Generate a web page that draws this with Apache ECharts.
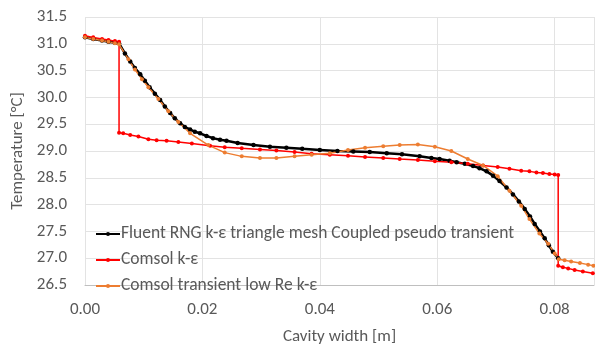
<!DOCTYPE html>
<html>
<head>
<meta charset="utf-8">
<script src="https://cdn.jsdelivr.net/npm/echarts@6/dist/echarts.min.js"></script>
<style>
    html, body { margin: 0; padding: 0; background: #fff; }
    #chart { width: 595px; height: 350px; }
</style>
</head>
<body>
<div id="chart"></div>
<script>
    // Fluent RNG k-e (dense markers)
    const fluentX = [0, 0.0014, 0.0029, 0.0040, 0.0051, 0.0058, 0.0068, 0.0077, 0.0085, 0.0094, 0.0102, 0.0110,
        0.0119, 0.0128, 0.0136, 0.0145, 0.0153, 0.0162, 0.0170, 0.0179, 0.0187, 0.0196, 0.0207, 0.0218,
        0.0230, 0.0241, 0.0260, 0.0287, 0.0315, 0.0343, 0.0370, 0.0400, 0.0430, 0.0457, 0.0485, 0.0514,
        0.0540, 0.0570, 0.0590, 0.0604, 0.0621, 0.0633, 0.0647, 0.0661, 0.0672, 0.0684, 0.0695, 0.0706,
        0.0718, 0.0729, 0.0739, 0.0749, 0.0758, 0.0766, 0.0775, 0.0783, 0.0790, 0.0797, 0.0806];
    const fluentY = [31.12, 31.09, 31.06, 31.04, 31.02, 31.01, 30.82, 30.67, 30.55, 30.43, 30.31, 30.19,
        30.07, 29.95, 29.83, 29.71, 29.61, 29.52, 29.45, 29.40, 29.36, 29.33, 29.28, 29.24,
        29.21, 29.19, 29.15, 29.11, 29.08, 29.06, 29.04, 29.02, 29.00, 28.99, 28.98, 28.96,
        28.94, 28.90, 28.87, 28.85, 28.82, 28.79, 28.76, 28.72, 28.68, 28.62, 28.54, 28.44,
        28.32, 28.19, 28.06, 27.92, 27.78, 27.64, 27.50, 27.37, 27.24, 27.12, 27.00];

    // Comsol k-e
    const comsolX = [0, 0.0014, 0.0029, 0.0040, 0.0051, 0.0058, 0.0058, 0.0065, 0.0077, 0.0091, 0.0108, 0.0122,
        0.0139, 0.0159, 0.0182, 0.0213, 0.0238, 0.0267, 0.0298, 0.0326, 0.0357, 0.0386, 0.0417, 0.0448,
        0.0477, 0.0508, 0.0536, 0.0567, 0.0596, 0.0624, 0.0652, 0.0678, 0.0703, 0.0723, 0.0743, 0.0757,
        0.0769, 0.0780, 0.0791, 0.0800, 0.0806, 0.0806, 0.0814, 0.0823, 0.0834, 0.0848, 0.0865];
    const comsolY = [31.15, 31.12, 31.09, 31.07, 31.05, 31.04, 29.34, 29.33, 29.30, 29.27, 29.22, 29.20,
        29.19, 29.17, 29.14, 29.10, 29.07, 29.05, 29.03, 29.01, 28.98, 28.95, 28.93, 28.91,
        28.89, 28.87, 28.85, 28.83, 28.81, 28.79, 28.76, 28.73, 28.70, 28.67, 28.63, 28.62,
        28.60, 28.59, 28.57, 28.56, 28.55, 26.86, 26.83, 26.81, 26.78, 26.75, 26.72];

    // Comsol transient low Re k-e
    const lowReX = [0, 0.0014, 0.0029, 0.0040, 0.0051, 0.0058, 0.0074, 0.0085, 0.0097, 0.0108, 0.0125, 0.0142,
        0.0159, 0.0179, 0.0210, 0.0238, 0.0267, 0.0298, 0.0326, 0.0357, 0.0386, 0.0417, 0.0448, 0.0477,
        0.0508, 0.0536, 0.0567, 0.0596, 0.0624, 0.0652, 0.0678, 0.0703, 0.0723, 0.0743, 0.0757, 0.0774,
        0.0789, 0.0800, 0.0807, 0.0817, 0.0828, 0.0843, 0.0857, 0.0866];
    const lowReY = [31.12, 31.09, 31.06, 31.04, 31.01, 30.99, 30.71, 30.52, 30.34, 30.19, 29.97, 29.74,
        29.54, 29.33, 29.11, 28.97, 28.90, 28.87, 28.87, 28.90, 28.93, 28.96, 29.02, 29.06,
        29.09, 29.11, 29.12, 29.08, 29.00, 28.85, 28.73, 28.53, 28.26, 27.98, 27.73, 27.46,
        27.27, 27.09, 26.98, 26.96, 26.94, 26.91, 26.88, 26.86];

    const seriesNames = [
        'Fluent RNG k-ε triangle mesh Coupled pseudo transient',
        'Comsol k-ε',
        'Comsol transient low Re k-ε'
    ];
    const colors = ['#000000', '#ff0000', '#ed7d31'];

    const xMin = 0, xMax = 0.0867, xStep = 0.02;
    const yMin = 26.5, yMax = 31.5, yStep = 0.5;

    const zip = (xs, ys) => xs.map((x, i) => [x, ys[i]]);
    const font = 'Carlito, Lato, "Open Sans", sans-serif';
    const textColor = '#595959';

    const chart = echarts.init(document.getElementById('chart'), null, { renderer: 'canvas' });

    const lineSeries = (name, data, color, width, size) => ({
        name,
        type: 'line',
        data,
        color,
        symbol: 'circle',
        symbolSize: size,
        showAllSymbol: true,
        lineStyle: { width, color },
        itemStyle: { color },
        animation: false
    });

    chart.setOption({
        animation: false,
        textStyle: { fontFamily: font },
        grid: { left: 85, right: 1, top: 17, bottom: 61 },
        legend: {
            orient: 'vertical',
            left: 90,
            top: 219,
            itemWidth: 24,
            itemHeight: 5,
            itemGap: 6,
            data: seriesNames,
            textStyle: { color: textColor, fontSize: 17.5, fontFamily: font, padding: [0, 0, 0, -4], lineHeight: 20 }
        },
        xAxis: {
            type: 'value',
            min: xMin,
            max: xMax,
            interval: xStep,
            name: 'Cavity width [m]',
            nameLocation: 'middle',
            nameGap: 43,
            nameTextStyle: { color: textColor, fontSize: 17, fontFamily: font },
            axisLine: { show: true, lineStyle: { color: '#bfbfbf', width: 1 } },
            axisTick: { show: false },
            axisLabel: {
                color: textColor, fontSize: 17, fontFamily: font, margin: 16,
                showMaxLabel: false,
                formatter: v => v.toFixed(2)
            },
            splitLine: { show: true, lineStyle: { color: '#e3e3e3', width: 1 } }
        },
        yAxis: {
            type: 'value',
            min: yMin,
            max: yMax,
            interval: yStep,
            name: 'Temperature [°C]',
            nameLocation: 'middle',
            nameGap: 56,
            nameTextStyle: { color: textColor, fontSize: 17, fontFamily: font },
            axisLine: { show: false },
            axisTick: { show: false },
            axisLabel: {
                color: textColor, fontSize: 17, fontFamily: font, margin: 18,
                formatter: v => v.toFixed(1)
            },
            splitLine: { show: true, lineStyle: { color: '#e3e3e3', width: 1 } }
        },
        series: [
            lineSeries(seriesNames[0], zip(fluentX, fluentY), colors[0], 2.5, 4.5),
            lineSeries(seriesNames[1], zip(comsolX, comsolY), colors[1], 1.5, 4),
            lineSeries(seriesNames[2], zip(lowReX, lowReY), colors[2], 1.5, 4)
        ]
    });
</script>
</body>
</html>
